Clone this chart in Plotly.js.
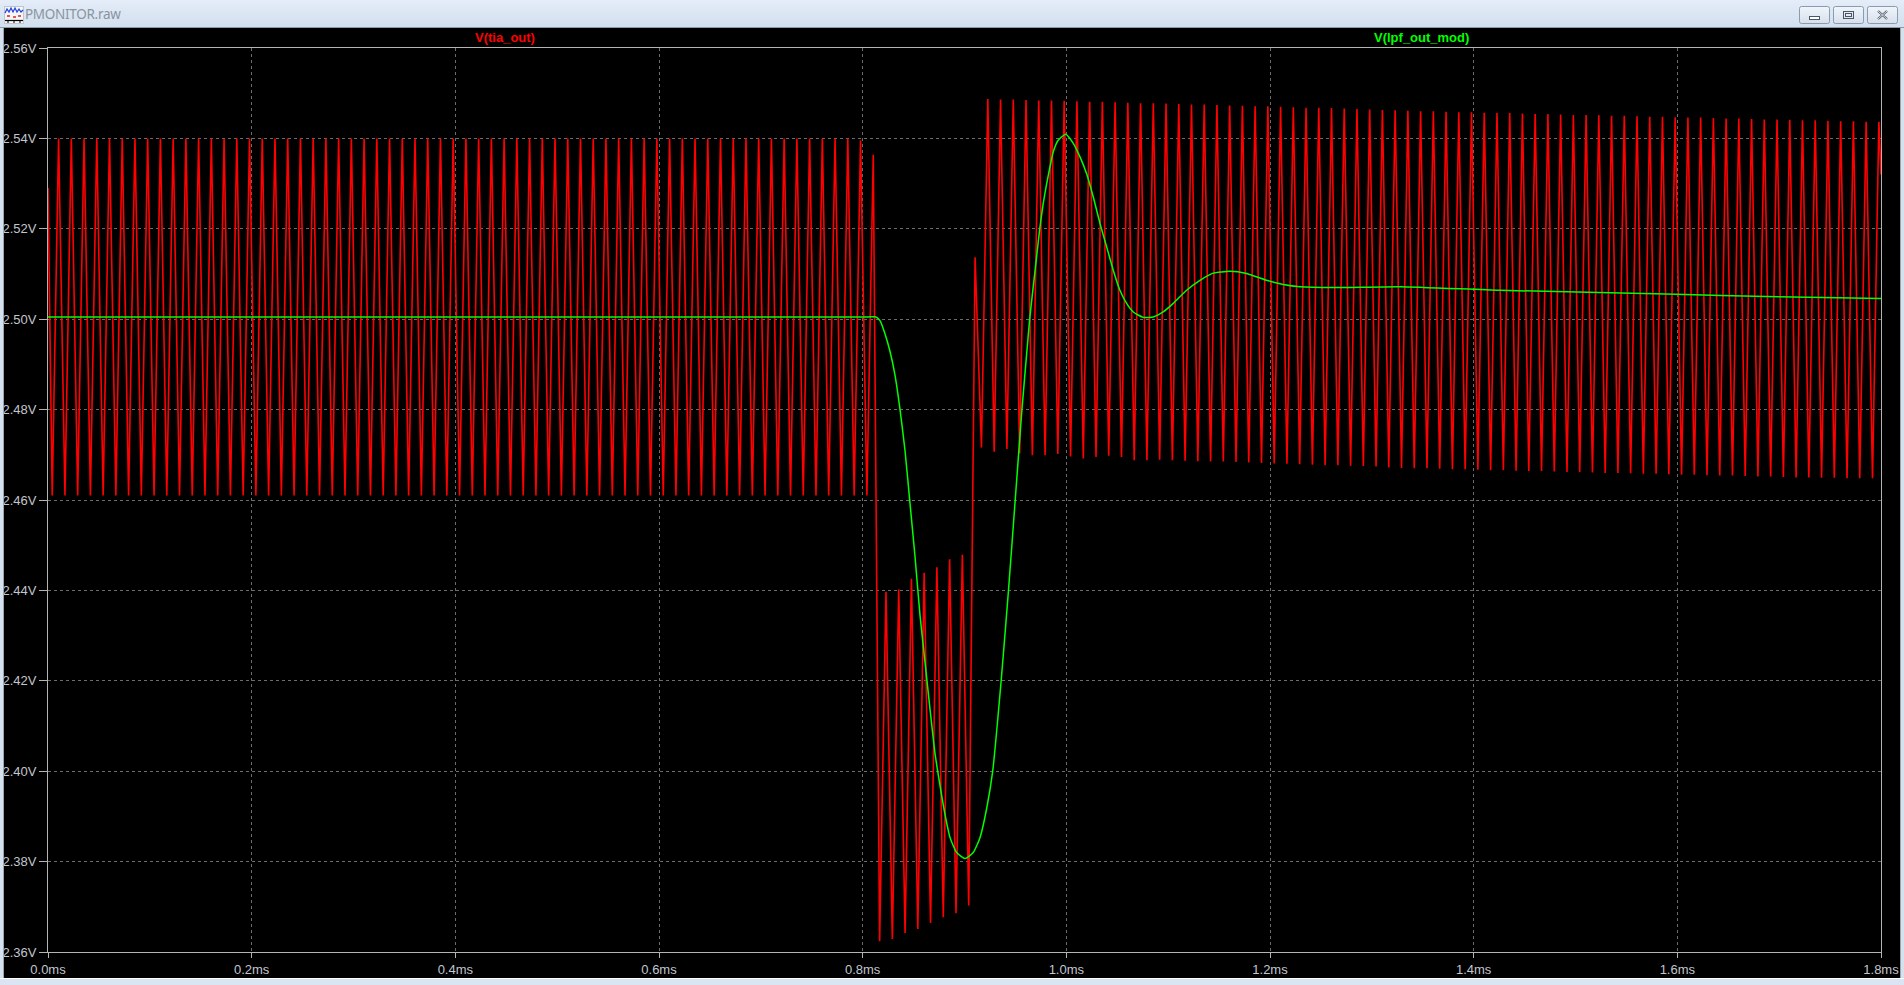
<!DOCTYPE html>
<html>
<head>
<meta charset="utf-8">
<script src="https://cdn.plot.ly/plotly-3.0.1.min.js"></script>
<style>
  html,body{margin:0;padding:0;width:1904px;height:985px;overflow:hidden;background:#dbe5f1;}
  #plot{position:absolute;left:0;top:0;width:1904px;height:985px;}
  .chrome{position:absolute;z-index:10;}
</style>
</head>
<body>
<div id="plot"></div>
<!-- window chrome -->
<div class="chrome" style="left:0;top:0;width:1904px;height:27px;background:linear-gradient(#e4edf8,#d2dfee);border-bottom:1px solid #8e99a6;"></div>
<div class="chrome" style="left:0;top:28px;width:4px;height:957px;background:#d6e1ee;border-right:1px solid #9aa6b4;box-sizing:border-box;"></div>
<div class="chrome" style="left:1900px;top:28px;width:4px;height:957px;background:#d6e1ee;border-left:1px solid #9aa6b4;box-sizing:border-box;"></div>
<div class="chrome" style="left:0;top:978px;width:1904px;height:7px;background:#dbe5f1;border-top:1px solid #ffffff;box-sizing:border-box;"></div>
<svg class="chrome" style="left:4px;top:6px;" width="20" height="18" viewBox="0 0 20 18">
  <rect x="0.5" y="0.5" width="19" height="17" fill="#f4f6f8" stroke="#c0c6ce"/>
  <polyline points="1,7 3,3 5,6 7,2 9,6 11,2 13,6 15,3 17,6 19,4" fill="none" stroke="#2040e0" stroke-width="1.2"/>
  <line x1="3" y1="10" x2="6" y2="10" stroke="#e02020" stroke-width="1.5"/>
  <line x1="9" y1="11" x2="12" y2="11" stroke="#e02020" stroke-width="1.5"/>
  <line x1="14" y1="10" x2="17" y2="10" stroke="#e02020" stroke-width="1.5"/>
  <line x1="1" y1="14.5" x2="19" y2="14.5" stroke="#000" stroke-width="1.2"/>
  <line x1="4" y1="14" x2="4" y2="17" stroke="#000"/><line x1="10" y1="14" x2="10" y2="17" stroke="#000"/><line x1="16" y1="14" x2="16" y2="17" stroke="#000"/>
</svg>
<div class="chrome" style="left:25px;top:4px;height:20px;line-height:20px;font-family:'Noto Sans','Open Sans',sans-serif;font-size:13.5px;letter-spacing:-0.3px;color:#8a949f;">PMONITOR.raw</div>
<svg class="chrome" style="left:1798px;top:5px;" width="102" height="20" viewBox="0 0 102 20">
  <defs><linearGradient id="bg" x1="0" y1="0" x2="0" y2="1"><stop offset="0" stop-color="#f1f5fa"/><stop offset="1" stop-color="#d6e0ec"/></linearGradient></defs>
  <rect x="1.5" y="1.5" width="30" height="17" rx="2" fill="url(#bg)" stroke="#8a9ab0"/>
  <rect x="35.5" y="1.5" width="30" height="17" rx="2" fill="url(#bg)" stroke="#8a9ab0"/>
  <rect x="69.5" y="1.5" width="30" height="17" rx="2" fill="url(#bg)" stroke="#8a9ab0"/>
  <rect x="11.5" y="11.5" width="10" height="3" fill="#ffffff" stroke="#4a5566"/>
  <rect x="45.5" y="6.5" width="10" height="7" fill="none" stroke="#4a5566"/>
  <rect x="47.5" y="8.5" width="6" height="3" fill="none" stroke="#4a5566"/>
  <path d="M80,6 L89,14 M89,6 L80,14" stroke="#4a5566" stroke-width="2.2"/>
  <path d="M80,6 L89,14 M89,6 L80,14" stroke="#ffffff" stroke-width="0.8"/>
</svg>
<script>
// ---- axis ticks ----
const xTickVals = [0.0, 0.2, 0.4, 0.6, 0.8, 1.0, 1.2, 1.4, 1.6, 1.8];
const xTickText = ["0.0ms","0.2ms","0.4ms","0.6ms","0.8ms","1.0ms","1.2ms","1.4ms","1.6ms","1.8ms"];
const yTickVals = [2.36, 2.38, 2.40, 2.42, 2.44, 2.46, 2.48, 2.50, 2.52, 2.54, 2.56];
const yTickText = ["2.36V","2.38V","2.40V","2.42V","2.44V","2.46V","2.48V","2.50V","2.52V","2.54V","2.56V"];

// ---- V(tia_out): carrier timing (ms) ----
const carrierPeriodMs = 0.0125;
const firstPeakMs = 0.0104;
const redStartV = 2.529;
const redEndV = 2.532;
// peak value of each carrier cycle (cycle 0..143)
const redPeaks = [
  2.540,2.540,2.540,2.540,2.540,2.540,2.540,2.540,2.540,2.540,2.540,2.540,2.540,2.540,2.540,2.540,
  2.540,2.540,2.540,2.540,2.540,2.540,2.540,2.540,2.540,2.540,2.540,2.540,2.540,2.540,2.540,2.540,
  2.540,2.540,2.540,2.540,2.540,2.540,2.540,2.540,2.540,2.540,2.540,2.540,2.540,2.540,2.540,2.540,
  2.540,2.540,2.540,2.540,2.540,2.540,2.540,2.540,2.540,2.540,2.540,2.540,2.540,2.540,2.540,
  2.5396,2.5364,
  2.4397,2.4402,2.4426,2.4439,2.4451,2.4469,2.4479,
  2.5137,
  2.5487,2.5486,2.5486,2.5485,2.5484,2.5484,2.5483,2.5482,2.5481,2.5481,
  2.5480,2.5479,2.5478,2.5478,2.5477,2.5476,2.5475,2.5475,2.5474,2.5473,
  2.5472,2.5471,2.5471,2.5470,2.5469,2.5468,2.5468,2.5467,2.5466,2.5465,
  2.5464,2.5463,2.5462,
  2.5461,2.5460,2.5460,2.5459,2.5458,2.5458,2.5457,2.5456,2.5456,2.5455,
  2.5454,2.5454,2.5453,2.5452,2.5452,2.5451,2.5450,2.5450,2.5449,2.5448,
  2.5448,2.5447,2.5446,2.5446,2.5445,2.5444,2.5444,2.5443,2.5442,2.5442,
  2.5441,2.5440,2.5440,2.5439,2.5438,2.5438,2.5437,2.5437
];
// trough value preceding each peak (cycle -1..142)
const redTroughs = [
  2.461,2.461,2.461,2.461,2.461,2.461,2.461,2.461,2.461,2.461,2.461,2.461,2.461,2.461,2.461,2.461,
  2.461,2.461,2.461,2.461,2.461,2.461,2.461,2.461,2.461,2.461,2.461,2.461,2.461,2.461,2.461,2.461,
  2.461,2.461,2.461,2.461,2.461,2.461,2.461,2.461,2.461,2.461,2.461,2.461,2.461,2.461,2.461,2.461,
  2.461,2.461,2.461,2.461,2.461,2.461,2.461,2.461,2.461,2.461,2.461,2.461,2.461,2.461,2.461,2.461,2.461,
  2.3624,2.3629,2.3642,2.3651,2.3664,2.3677,2.3686,2.3703,
  2.4716,2.4707,2.4713,2.4703,2.4699,2.4699,2.4702,2.4696,2.4692,2.4695,2.4698,2.4695,2.4688,2.4688,
  2.4689,2.4688,2.4687,2.4686,2.4685,2.4685,2.4684,2.4683,2.4682,2.4681,
  2.4680,2.4679,2.4678,2.4677,2.4677,2.4676,2.4675,2.4674,2.4672,2.4671,
  2.4670,2.4670,2.4669,2.4668,2.4668,2.4667,2.4666,2.4666,2.4665,2.4664,
  2.4664,2.4663,2.4662,2.4662,2.4661,2.4660,2.4660,2.4659,2.4658,2.4658,
  2.4657,2.4656,2.4656,2.4655,2.4654,2.4654,2.4653,2.4652,2.4652,2.4651,
  2.4650,2.4650,2.4649,2.4649,2.4648,2.4648,2.4648
];

// ---- V(lpf_out_mod) ----
const greenT = [0.0000,0.2000,0.4000,0.6000,0.7800,0.8050,0.8131,0.8170,0.8219,0.8268,0.8317,0.8367,0.8416,0.8465,0.8514,0.8563,0.8612,0.8661,0.8710,0.8759,0.8808,0.8858,0.8923,0.9005,0.9086,0.9152,0.9218,0.9277,0.9360,0.9432,0.9498,0.9564,0.9616,0.9640,0.9675,0.9709,0.9741,0.9773,0.9807,0.9839,0.9871,0.9920,0.9993,1.0068,1.0134,1.0199,1.0264,1.0330,1.0396,1.0460,1.0526,1.0592,1.0657,1.0755,1.0853,1.0951,1.1050,1.1181,1.1312,1.1442,1.1606,1.1770,1.1966,1.2129,1.2293,1.2620,1.3275,1.4257,1.5991,1.6875,1.8000];
const greenV = [2.5005,2.5005,2.5005,2.5005,2.5005,2.5005,2.5005,2.4997,2.4968,2.4929,2.4877,2.4800,2.4709,2.4592,2.4475,2.4345,2.4242,2.4138,2.4040,2.3969,2.3905,2.3853,2.3820,2.3807,2.3820,2.3853,2.3918,2.4000,2.4200,2.4400,2.4600,2.4800,2.4938,2.5000,2.5072,2.5140,2.5204,2.5256,2.5300,2.5337,2.5370,2.5396,2.5409,2.5389,2.5359,2.5322,2.5271,2.5212,2.5160,2.5109,2.5064,2.5035,2.5016,2.5004,2.5005,2.5016,2.5035,2.5064,2.5086,2.5102,2.5106,2.5101,2.5086,2.5077,2.5072,2.5070,2.5072,2.5064,2.5055,2.5050,2.5046];

// build red trace points: trough, peak alternating on the carrier time base
const redT = [0], redV = [redStartV];
for (let j = 0; j < redPeaks.length; j++) {
  redT.push(firstPeakMs + (j - 0.5) * carrierPeriodMs); redV.push(redTroughs[j]);
  redT.push(firstPeakMs + j * carrierPeriodMs); redV.push(redPeaks[j]);
}
redT.push(1.8); redV.push(redEndV);

const tickFont = {family: "'Liberation Sans', Arial, sans-serif", size: 13, color: '#c2c6ce'};
const axisCommon = {
  showgrid: true, gridcolor: '#6c6c6c', gridwidth: 1, griddash: '3px,3px',
  showline: true, linecolor: '#b4b4b4', linewidth: 1, mirror: true,
  ticks: 'outside', tickcolor: '#b4b4b4', tickwidth: 1,
  zeroline: false, fixedrange: true, tickfont: tickFont
};

const data = [
  {x: redT, y: redV, type: 'scatter', mode: 'lines', name: 'V(tia_out)',
   line: {color: '#ff0000', width: 1.6}, hoverinfo: 'skip'},
  {x: greenT, y: greenV, type: 'scatter', mode: 'lines', name: 'V(lpf_out_mod)',
   line: {color: '#00ff00', width: 1.5, shape: 'spline', smoothing: 0.5}, hoverinfo: 'skip'}
];

const layout = {
  width: 1904, height: 985,
  paper_bgcolor: '#000000', plot_bgcolor: '#000000',
  margin: {l: 48, r: 23, t: 48, b: 33, pad: 0},
  showlegend: false,
  xaxis: Object.assign({}, axisCommon, {range: [0, 1.8], tickmode: 'array', tickvals: xTickVals, ticktext: xTickText, ticklen: 5}),
  yaxis: Object.assign({}, axisCommon, {range: [2.36, 2.56], tickmode: 'array', tickvals: yTickVals, ticktext: yTickText, ticklen: 8}),
  annotations: [
    {text: 'V(tia_out)', xref: 'x', yref: 'paper', x: 0.449, y: 1, yanchor: 'middle', yshift: 11,
     showarrow: false, font: {family: "'Liberation Sans', Arial, sans-serif", size: 13, color: '#ff0000', weight: 'bold'}},
    {text: 'V(lpf_out_mod)', xref: 'x', yref: 'paper', x: 1.349, y: 1, yanchor: 'middle', yshift: 11,
     showarrow: false, font: {family: "'Liberation Sans', Arial, sans-serif", size: 13, color: '#00ff00', weight: 'bold'}}
  ]
};

Plotly.newPlot('plot', data, layout, {staticPlot: true, displayModeBar: false, responsive: false});
</script>
</body>
</html>
